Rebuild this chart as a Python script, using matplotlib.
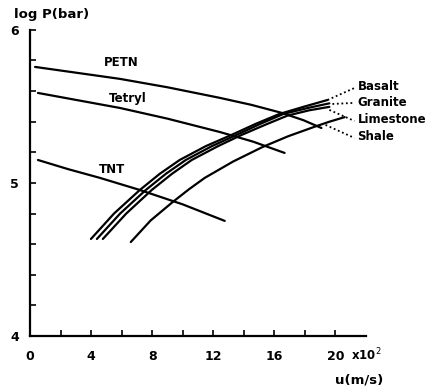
import matplotlib
matplotlib.use("Agg")
import matplotlib.pyplot as plt

# explosives: u (x10^2 m/s) vs log P (bar)
petn_u = [0.33, 5.88, 9.0, 12.42, 14.5, 16.47, 17.9, 19.08]
petn_p = [5.758, 5.680, 5.625, 5.556, 5.51, 5.458, 5.41, 5.359]
tetryl_u = [0.52, 5.88, 9.0, 12.42, 14.6, 16.67]
tetryl_p = [5.588, 5.49, 5.42, 5.333, 5.27, 5.196]
tnt_u = [0.52, 2.5, 4.58, 7.19, 10.0, 12.75]
tnt_p = [5.150, 5.09, 5.033, 4.954, 4.86, 4.752]

# rocks
basalt_u = [3.99, 5.5, 7.19, 8.5, 9.80, 11.5, 13.20, 14.8, 16.34, 18.0, 19.48]
basalt_p = [4.634, 4.80, 4.954, 5.06, 5.150, 5.24, 5.314, 5.387, 5.451, 5.50, 5.542]
granite_u = [4.38, 5.9, 7.58, 8.9, 10.20, 11.9, 13.53, 15.1, 16.60, 18.2, 19.60]
granite_p = [4.634, 4.80, 4.954, 5.06, 5.150, 5.24, 5.314, 5.387, 5.451, 5.49, 5.520]
limestone_u = [4.77, 6.3, 7.97, 9.3, 10.59, 12.3, 13.86, 15.4, 16.86, 18.3, 19.60]
limestone_p = [4.634, 4.80, 4.954, 5.06, 5.150, 5.24, 5.314, 5.38, 5.440, 5.475, 5.497]
shale_u = [6.60, 7.9, 9.35, 10.4, 11.44, 13.3, 15.23, 16.9, 18.60, 19.6, 20.60]
shale_p = [4.614, 4.755, 4.876, 4.958, 5.033, 5.14, 5.235, 5.305, 5.366, 5.40, 5.430]

x_ticks = list(range(0, 21, 2))
x_labels = ["0", "", "4", "", "8", "", "12", "", "16", "", "20"]
y_ticks = [4 + 0.2 * i for i in range(11)]
y_labels = ["4", "", "", "", "", "5", "", "", "", "", "6"]

fig = plt.figure(figsize=(4.33, 3.88), dpi=100)
ax = fig.add_axes([0.0693, 0.134, 0.776, 0.789])

lw = 1.6
for u, p in [(petn_u, petn_p), (tetryl_u, tetryl_p), (tnt_u, tnt_p),
             (basalt_u, basalt_p), (granite_u, granite_p),
             (limestone_u, limestone_p), (shale_u, shale_p)]:
    ax.plot(u, p, color="black", linewidth=lw, solid_capstyle="round",
            solid_joinstyle="round")

font = dict(fontsize=8.5, fontweight="bold", color="black")
ax.text(6.0, 5.79, "PETN", ha="center", va="center", **font)
ax.text(6.4, 5.55, "Tetryl", ha="center", va="center", **font)
ax.text(5.36, 5.085, "TNT", ha="center", va="center", **font)

# rock labels with dotted leaders
rock_labels = ["Basalt", "Granite", "Limestone", "Shale"]
leader_start = [(19.48, 5.542), (19.8, 5.516), (19.6, 5.477), (19.35, 5.379)]
leader_end = [(21.24, 5.62), (21.24, 5.523), (21.24, 5.405), (21.24, 5.294)]
label_y = [5.627, 5.523, 5.412, 5.301]
for name, s, e, ly in zip(rock_labels, leader_start, leader_end, label_y):
    ax.plot([s[0], e[0]], [s[1], e[1]], color="black", linestyle=(0, (1, 1.5)),
            linewidth=1.3, clip_on=False)
    ax.text(21.44, ly, name, ha="left", va="center", **font)

ax.set_xlim(0, 22)
ax.set_ylim(4, 6)
ax.spines["top"].set_visible(False)
ax.spines["right"].set_visible(False)
ax.spines["left"].set_linewidth(1.6)
ax.spines["bottom"].set_linewidth(1.6)
ax.spines["left"].set_bounds(4, 6)
ax.spines["bottom"].set_bounds(0, 22)

ax.set_xticks(x_ticks)
ax.set_xticklabels(x_labels)
ax.set_yticks(y_ticks)
ax.set_yticklabels(y_labels)
ax.tick_params(axis="x", direction="in", length=4, width=1.2, pad=10,
               labelsize=9)
ax.tick_params(axis="y", direction="in", length=4, width=1.2, pad=8,
               labelsize=9)
for lab in ax.get_xticklabels() + ax.get_yticklabels():
    lab.set_fontweight("bold")

ax.text(21.0, 3.875, r"x10$^{2}$", ha="left", va="center", **font)
fig.text(0.12, 0.962, "log P(bar)", ha="center", va="center",
         fontsize=9.5, fontweight="bold")
fig.text(0.83, 0.02, "u(m/s)", ha="center", va="center",
         fontsize=9.5, fontweight="bold")

fig.savefig("out.png", dpi=100)
